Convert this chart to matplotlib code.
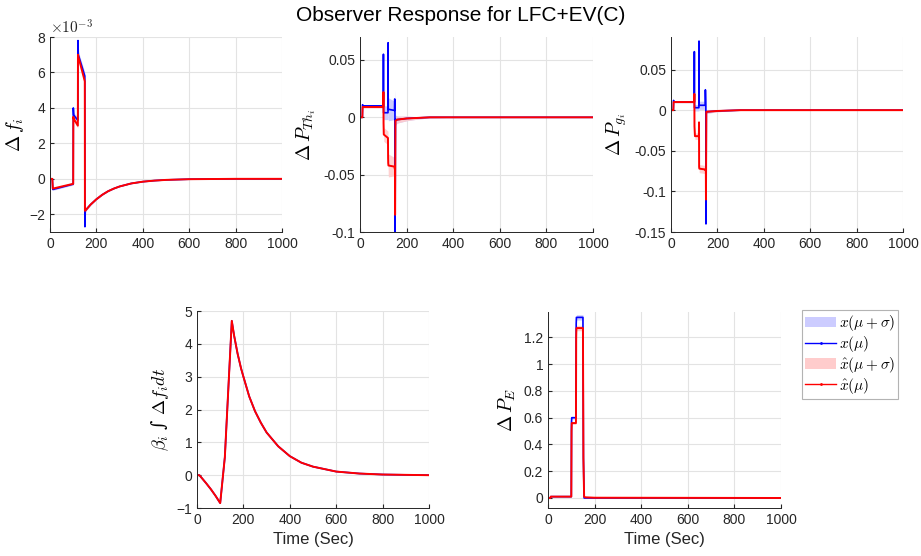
import numpy as np
import matplotlib.pyplot as plt
from matplotlib.patches import Patch
from matplotlib.lines import Line2D

plt.rcParams['font.family'] = ['Liberation Sans', 'DejaVu Sans']
plt.rcParams['mathtext.fontset'] = 'cm'

# ---- delta f (x 1e-3) ----
t_f = [0, 10, 12, 100, 100.5, 102, 120, 120.5, 122, 150, 150.5, 152, 155, 165, 175, 190, 200,
       225, 250, 275, 300, 350, 400, 450, 500, 600, 700, 800, 1000]
x_f = [0, 0, -0.6, -0.3, 4.0, 3.6, 3.3, 7.8, 7.0, 5.8, -2.7, -1.8, -1.75, -1.6, -1.45, -1.27,
       -1.15, -0.9, -0.7, -0.55, -0.43, -0.26, -0.16, -0.1, -0.06, -0.02, -0.01, 0, 0]
xh_f = [0, 0, -0.55, -0.28, 3.5, 3.4, 3.0, 7.0, 6.9, 5.5, -1.8, -1.8, -1.75, -1.6, -1.45, -1.27,
        -1.15, -0.9, -0.7, -0.55, -0.43, -0.26, -0.16, -0.1, -0.06, -0.02, -0.01, 0, 0]
sd_f = [0, 0, 0.05, 0.05, 0.15, 0.15, 0.15, 0.2, 0.2, 0.2, 0.1, 0.08, 0.06, 0.05, 0.04, 0.035,
        0.03, 0.025, 0.02, 0.015, 0.01, 0.01, 0, 0, 0, 0, 0, 0, 0]

# ---- delta P_Th ----
t_th = [0, 10, 11, 12, 100, 100.5, 101, 102, 120, 120.5, 121, 122, 148, 149, 150, 150.5, 152,
        160, 200, 250, 300, 400, 1000]
x_th = [0, 0, 0.011, 0.01, 0.01, 0.055, 0.004, 0.004, 0.004, 0.065, 0.008, 0.007, 0.006, 0.016,
        0.006, -0.1, -0.002, -0.002, -0.001, -0.0005, 0, 0, 0]
xh_th = [0, 0, 0.009, 0.009, 0.009, 0.022, -0.005, -0.015, -0.018, -0.035, -0.04, -0.042, -0.043,
         -0.045, -0.045, -0.085, -0.003, -0.002, -0.001, -0.0005, 0, 0, 0]
sd_th = [0, 0, 0.001, 0.001, 0.001, 0.004, 0.005, 0.006, 0.006, 0.008, 0.01, 0.01, 0.008, 0.008,
         0.008, 0.008, 0.004, 0.003, 0.002, 0.001, 0.0005, 0, 0]

# ---- delta P_g ----
t_g = [0, 10, 11, 12, 100, 100.5, 101, 103, 120, 120.5, 121, 122, 147, 148, 150, 150.5, 152,
       200, 300, 1000]
x_g = [0, 0, 0.012, 0.01, 0.01, 0.072, 0.003, 0.003, 0.003, 0.085, 0.007, 0.006, 0.006, 0.025,
       0.006, -0.14, -0.002, -0.001, 0, 0]
xh_g = [0, 0, 0.01, 0.01, 0.01, 0.02, -0.02, -0.032, -0.032, -0.015, -0.07, -0.072, -0.073, -0.074,
        -0.074, -0.11, -0.002, -0.001, 0, 0]
sd_g = [0, 0, 0.001, 0.001, 0.001, 0.003, 0.004, 0.004, 0.004, 0.006, 0.006, 0.005, 0.005, 0.005,
        0.005, 0.004, 0.002, 0.001, 0, 0]

# ---- beta * integral delta f ----
t_b = [0, 10, 20, 40, 60, 80, 100, 120, 150, 160, 175, 190, 200, 225, 250, 275, 300, 350, 400,
       450, 500, 600, 700, 800, 900, 1000]
x_b = [0, 0, -0.08, -0.25, -0.43, -0.63, -0.85, 0.55, 4.7, 4.25, 3.7, 3.25, 3.0, 2.4, 1.95, 1.6,
       1.3, 0.88, 0.58, 0.38, 0.26, 0.11, 0.05, 0.02, 0.01, 0]
xh_b = x_b
sd_b = [0] * len(t_b)

# ---- delta P_E ----
t_e = [0, 10, 12, 100, 101, 102, 120, 121, 122, 150, 152, 155, 160, 200, 1000]
x_e = [0, 0, 0.01, 0.01, 0.57, 0.6, 0.6, 1.3, 1.35, 1.35, 0.3, 0, 0, 0, 0]
xh_e = [0, 0, 0.01, 0.01, 0.5, 0.56, 0.56, 1.2, 1.27, 1.27, 0.3, 0.01, 0.005, 0.002, 0]
sd_e = [0, 0, 0, 0, 0.01, 0.01, 0.01, 0.02, 0.02, 0.02, 0.01, 0.005, 0, 0, 0]

blue_band = '#ccccff'
red_band = '#ffcccc'


def draw(ax, t, x, xh, sd):
    t = np.array(t)
    x = np.array(x)
    xh = np.array(xh)
    sd = np.array(sd)
    ax.fill_between(t, x - sd, x + sd, color=blue_band, lw=0)
    ax.fill_between(t, xh - sd, xh + sd, color=red_band, lw=0, alpha=0.9)
    ax.plot(t, x, color='b', lw=1.2)
    ax.plot(t, xh, color='r', lw=1.4)


def style(ax):
    ax.set_xlim(0, 1000)
    ax.set_xticks([0, 200, 400, 600, 800, 1000])
    ax.grid(True, color='#e3e3e3', lw=0.8)
    ax.set_axisbelow(True)
    for s in ['top', 'right']:
        ax.spines[s].set_visible(False)
    for s in ['left', 'bottom']:
        ax.spines[s].set_color('#262626')
        ax.spines[s].set_linewidth(0.7)
    ax.tick_params(direction='in', length=3, labelsize=10, colors='#262626',
                   labelcolor='#262626')


fig = plt.figure(figsize=(9.21, 5.56), dpi=100)

ax1 = fig.add_axes([0.0543, 0.5827, 0.2519, 0.3507])
draw(ax1, t_f, x_f, xh_f, sd_f)
style(ax1)
ax1.set_ylim(-3, 8)
ax1.set_yticks([-2, 0, 2, 4, 6, 8])
ax1.text(0.0, 1.0, r'$\times10^{-3}$', transform=ax1.transAxes, fontsize=11,
         color='#262626', va='bottom', ha='left')
ax1.set_ylabel(r'$\Delta\, f_i$', fontsize=14, labelpad=2)

ax2 = fig.add_axes([0.3909, 0.5827, 0.253, 0.3507])
draw(ax2, t_th, x_th, xh_th, sd_th)
style(ax2)
ax2.set_ylim(-0.1, 0.07)
ax2.set_yticks([-0.1, -0.05, 0, 0.05])
ax2.set_yticklabels(['-0.1', '-0.05', '0', '0.05'])
ax2.set_ylabel(r'$\Delta\, P_{Th_i}$', fontsize=14)

ax3 = fig.add_axes([0.7286, 0.5827, 0.252, 0.3507])
draw(ax3, t_g, x_g, xh_g, sd_g)
style(ax3)
ax3.set_ylim(-0.15, 0.09)
ax3.set_yticks([-0.15, -0.1, -0.05, 0, 0.05])
ax3.set_yticklabels(['-0.15', '-0.1', '-0.05', '0', '0.05'])
ax3.set_ylabel(r'$\Delta\, P_{g_i}$', fontsize=14)

ax4 = fig.add_axes([0.2139, 0.0863, 0.2519, 0.3543])
draw(ax4, t_b, x_b, xh_b, sd_b)
style(ax4)
ax4.set_ylim(-1, 5)
ax4.set_yticks([-1, 0, 1, 2, 3, 4, 5])
ax4.set_ylabel(r'$\beta_i$ ∫ $\Delta f_i dt$', fontsize=13,
               family=['DejaVu Serif', 'DejaVu Sans'], style='italic')
ax4.set_xlabel('Time (Sec)', fontsize=12, color='#262626')

ax5 = fig.add_axes([0.595, 0.0863, 0.253, 0.3525])
draw(ax5, t_e, x_e, xh_e, sd_e)
style(ax5)
ax5.set_ylim(-0.075, 1.39)
ax5.set_yticks([0, 0.2, 0.4, 0.6, 0.8, 1, 1.2])
ax5.set_yticklabels(['0', '0.2', '0.4', '0.6', '0.8', '1', '1.2'])
ax5.set_ylabel(r'$\Delta\, P_E$', fontsize=14)
ax5.set_xlabel('Time (Sec)', fontsize=12, color='#262626')

handles = [Patch(facecolor=blue_band, edgecolor='none'),
           Line2D([], [], color='b', lw=1, marker='.', ms=2),
           Patch(facecolor=red_band, edgecolor='none'),
           Line2D([], [], color='r', lw=1, marker='.', ms=2)]
labels = [r'$x(\mu+\sigma)$', r'$x(\mu)$', r'$\hat{x}(\mu+\sigma)$', r'$\hat{x}(\mu)$']
leg = fig.legend(handles, labels, loc='upper left', bbox_to_anchor=(0.871, 0.442),
                 fontsize=11, frameon=True, fancybox=False, handlelength=2.0,
                 handletextpad=0.2, borderpad=0.2, labelspacing=0.05, borderaxespad=0)
leg.get_frame().set_edgecolor('#a0a0a0')
leg.get_frame().set_linewidth(0.8)

fig.suptitle('Observer Response for LFC+EV(C)', fontsize=15, y=0.99, x=0.5)

fig.savefig('out.png', dpi=100)
